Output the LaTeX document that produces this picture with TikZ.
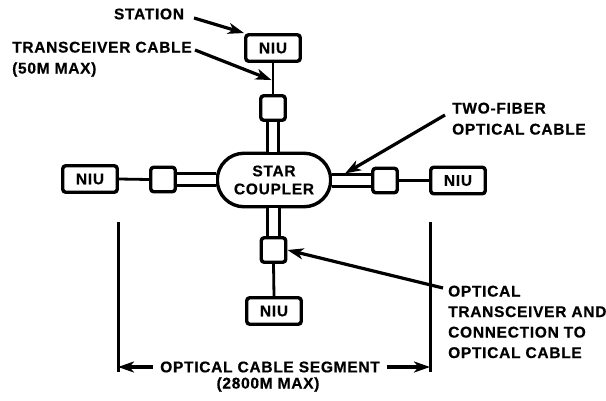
\documentclass[tikz,border=0pt]{standalone}
\usepackage{fontspec}
\setmainfont{Liberation Sans}[LetterSpace=4.6,FakeBold=0.6]
\usetikzlibrary{arrows.meta,shapes.misc,calc}
\newcommand\lblfont{\fontsize{15.5}{21}\selectfont\bfseries}
\begin{document}
\begin{tikzpicture}[x=1pt,y=-1pt,
  niubox/.style={draw,line width=3.4pt,rounded corners=3pt,minimum width=54.5pt,minimum height=26.5pt,inner sep=0pt,font=\lblfont},
  xcvr/.style={draw,line width=3.4pt,rounded corners=3pt,minimum size=24.5pt,inner sep=0pt},
  fiber/.style={line width=3pt,double,double distance=8.5pt},
  wire/.style={line width=2.8pt},
  pointer/.style={line width=3.2pt,-{Stealth[length=16pt,width=11pt,inset=4.5pt]}},
  lbl/.style={font=\lblfont,align=left,inner sep=0pt},
  segline/.style={line width=3pt}
]
\useasboundingbox (0,0) rectangle (606,400);

% star coupler
\node[draw,rounded rectangle,line width=3.4pt,minimum width=113.5pt,minimum height=53.5pt,inner sep=0pt,font=\lblfont,align=center] (cp) at (274,180) {STAR\\[-3pt]COUPLER};

% NIUs
\node[niubox] (niuT) at (273,48) {NIU};
\node[niubox] (niuL) at (90,179) {NIU};
\node[niubox] (niuR) at (458,180.5) {NIU};
\node[niubox] (niuB) at (274,311) {NIU};

% transceivers
\node[xcvr] (xT) at (273,108) {};
\node[xcvr] (xL) at (163,179.5) {};
\node[xcvr] (xR) at (385,180.5) {};
\node[xcvr] (xB) at (273.5,250) {};

% transceiver cables
\draw[wire] (niuT.south) -- (xT.north);
\draw[wire] (niuL.east) -- (xL.west);
\draw[wire] (niuR.west) -- (xR.east);
\draw[wire] (niuB.north) -- (xB.south);

% two-fiber optical cables
\draw[fiber] (xT.south) -- (xT.south |- cp.north);
\draw[fiber] (xB.north) -- (xB.north |- cp.south);
\draw[fiber] (xL.east) -- (cp.west |- xL.east);
\draw[fiber] (xR.west) -- (cp.east |- xR.west);

% labels
\node[lbl] (station) at (149,14) {STATION};
\node[lbl,anchor=north west] (tcable) at (12,41.5) {TRANSCEIVER CABLE\\(50M MAX)};
\node[lbl,anchor=north west] (twofiber) at (452,102.5) {TWO-FIBER\\OPTICAL CABLE};
\node[lbl,anchor=north west,font=\fontsize{15.5}{20.5}\selectfont\bfseries] (otrx) at (448,285.5) {OPTICAL\\TRANSCEIVER AND\\CONNECTION TO\\OPTICAL CABLE};
\node[lbl] (seg) at (270,367) {OPTICAL CABLE SEGMENT};
\node[lbl] (segmax) at (268,384.5) {(2800M MAX)};

% pointers
\coordinate (pS) at (194,18);
\coordinate (pT) at (195,50);
\coordinate (pF) at (445,115);
\coordinate (pO) at (443,288);
\draw[pointer] (pS) -- (niuT.north west);
\draw[pointer] (pT) -- ($(niuT.south)!0.55!(xT.north)+(-1.5,0)$);
\draw[pointer] (pF) -- (345,173.5);
\draw[pointer] (pO) -- (xB.east);

% segment extent
\coordinate (l1) at (118,222);
\coordinate (l2) at (118,372);
\coordinate (r1) at (430,222);
\coordinate (r2) at (430,372);
\draw[segline] (l1) -- (l2);
\draw[segline] (r1) -- (r2);
\draw[pointer] ([xshift=-7pt]seg.west) -- (seg.west -| l1);
\draw[pointer] ([xshift=7pt]seg.east) -- (seg.east -| r1);
\end{tikzpicture}
\end{document}
